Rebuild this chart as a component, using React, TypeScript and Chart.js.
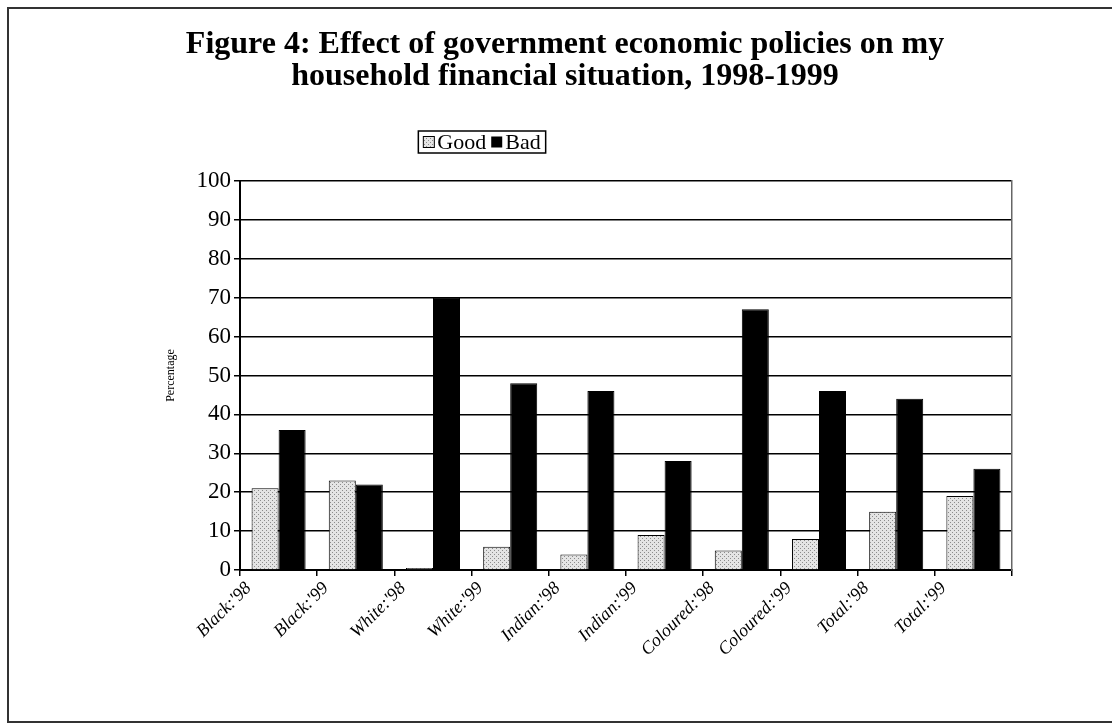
import React, { useEffect, useRef } from 'react';
import { Chart, registerables } from 'chart.js';

Chart.register(...registerables);

const categories = ["Black:'98", "Black:'99", "White:'98", "White:'99", "Indian:'98", "Indian:'99", "Coloured:'98", "Coloured:'99", "Total:'98", "Total:'99"];
const goodValues = [21, 23, 0.5, 6, 4, 9, 5, 8, 15, 19];
const badValues = [36, 22, 70, 48, 46, 28, 67, 46, 44, 26];
const seriesNames = ['Good', 'Bad'];
const titleLines = ['Figure 4: Effect of government economic policies on my', 'household financial situation, 1998-1999'];
const yAxisTitle = 'Percentage';

const SERIF = "'Liberation Serif', 'Times New Roman', serif";

function makeDotPattern(ctx: CanvasRenderingContext2D) {
  const tile = document.createElement('canvas');
  tile.width = 4;
  tile.height = 4;
  const g = tile.getContext('2d')!;
  g.fillStyle = '#e4e4e4';
  g.fillRect(0, 0, 4, 4);
  g.fillStyle = '#8c8c8c';
  g.fillRect(0, 0, 1, 1);
  g.fillRect(2, 2, 1, 1);
  return ctx.createPattern(tile, 'repeat')!;
}

export default function App() {
  const ref = useRef<HTMLCanvasElement | null>(null);

  useEffect(() => {
    const canvas = ref.current!;
    const ctx = canvas.getContext('2d')!;
    const dots = makeDotPattern(ctx);

    const framePlugin = {
      id: 'frame',
      beforeDraw(chart: any) {
        const c = chart.ctx;
        c.save();
        c.fillStyle = '#ffffff';
        c.fillRect(0, 0, chart.width, chart.height);
        c.strokeStyle = '#333333';
        c.lineWidth = 2;
        c.beginPath();
        c.moveTo(1112, 8);
        c.lineTo(8, 8);
        c.lineTo(8, 722);
        c.lineTo(1112, 722);
        c.stroke();
        c.restore();
      },
    };

    const legendPlugin = {
      id: 'customLegend',
      afterDraw(chart: any) {
        const c = chart.ctx;
        const cx = 482;
        const cy = 142;
        c.save();
        c.font = `22px ${SERIF}`;
        c.textBaseline = 'middle';
        c.fillStyle = '#000';
        const sw = 11;
        const gap = 3;
        const w0 = c.measureText(seriesNames[0]).width;
        const w1 = c.measureText(seriesNames[1]).width;
        const total = sw + gap + w0 + 5 + sw + gap + w1;
        let x = cx - total / 2;
        c.strokeStyle = '#000';
        c.lineWidth = 1.5;
        c.strokeRect(x - 5, cy - 11, total + 10, 22);
        c.fillStyle = dots;
        c.fillRect(x, cy - sw / 2, sw, sw);
        c.strokeStyle = '#000';
        c.lineWidth = 1;
        c.strokeRect(x, cy - sw / 2, sw, sw);
        x += sw + gap;
        c.fillStyle = '#000';
        c.fillText(seriesNames[0], x, cy + 1);
        x += w0 + 5;
        c.fillRect(x, cy - sw / 2, sw, sw);
        x += sw + gap;
        c.fillText(seriesNames[1], x, cy + 1);
        c.restore();
      },
    };

    const chart = new Chart(canvas, {
      type: 'bar',
      data: {
        labels: categories,
        datasets: [
          {
            label: seriesNames[0],
            data: goodValues,
            backgroundColor: dots as any,
            borderColor: '#000',
            borderWidth: 1,
            categoryPercentage: 0.7,
            barPercentage: 1.0,
          },
          {
            label: seriesNames[1],
            data: badValues,
            backgroundColor: '#000',
            borderColor: '#000',
            borderWidth: 1,
            categoryPercentage: 0.7,
            barPercentage: 1.0,
          },
        ],
      },
      options: {
        responsive: false,
        animation: false,
        layout: { padding: { left: 28, right: 10, top: 0, bottom: 0 } },
        plugins: {
          legend: { display: false },
          tooltip: { enabled: false },
          title: {
            display: true,
            text: titleLines,
            color: '#000',
            font: { family: SERIF, size: 32, weight: 'bold', lineHeight: 1.0 },
            padding: { top: 29, bottom: 88 },
          },
        },
        scales: {
          x: {
            grid: { display: true, drawOnChartArea: false, drawTicks: true, tickLength: 6, color: '#000', lineWidth: 1.5 },
            border: { display: true, color: '#000', width: 2 },
            ticks: {
              color: '#000',
              font: { family: SERIF, size: 18, style: 'italic' },
              maxRotation: 45,
              minRotation: 45,
              labelOffset: -30,
              padding: 2,
              autoSkip: false,
            },
            afterFit: (s: any) => { s.height = 156; },
          },
          y: {
            min: 0,
            max: 100,
            ticks: { stepSize: 10, color: '#000', font: { family: SERIF, size: 23 }, padding: 3 },
            grid: { color: '#000', lineWidth: 1.5, tickLength: 6, drawTicks: true },
            border: { display: true, color: '#000', width: 2 },
            title: {
              display: true,
              text: yAxisTitle,
              color: '#000',
              font: { family: SERIF, size: 12 },
              padding: { top: 136, bottom: 0 },
            },
            afterFit: (s: any) => { s.width = 212; },
          },
          y2: {
            position: 'right',
            min: 0,
            max: 100,
            grid: { display: false, drawOnChartArea: false },
            ticks: { display: false },
            border: { display: true, color: '#666', width: 1.5 },
            afterFit: (s: any) => { s.width = 90; },
          },
        },
      },
      plugins: [framePlugin, legendPlugin],
    });

    return () => chart.destroy();
  }, []);

  return (
    <div style={{ position: 'fixed', left: 0, top: 0, width: 1112, height: 726, background: '#fff' }}>
      <canvas ref={ref} width={1112} height={726} style={{ display: 'block', width: 1112, height: 726 }} />
    </div>
  );
}
